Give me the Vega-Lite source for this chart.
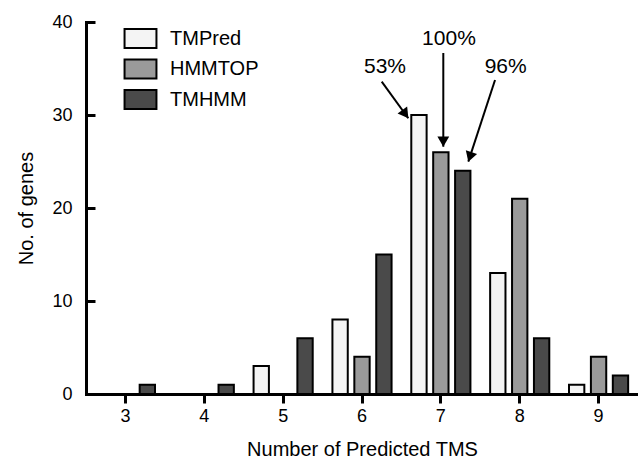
{
  "$schema": "https://vega.github.io/schema/vega-lite/v6.json",
  "autosize": {"type": "none"},
  "padding": {"left": 86, "top": 22, "right": 0, "bottom": 65},
  "width": 552,
  "height": 372,
  "background": "white",
  "config": {
    "font": "Liberation Sans",
    "view": {"stroke": null},
    "axis": {
      "domainColor": "black", "domainWidth": 3, "domainCap": "square",
      "tickColor": "black", "tickWidth": 3,
      "labelFontSize": 18, "labelColor": "black", "labelFont": "Liberation Sans",
      "titleFontSize": 20, "titleFontWeight": "normal", "titleColor": "black", "titleFont": "Liberation Sans",
      "grid": false
    }
  },
  "datasets": {
    "bars": [
      {"tms": 3, "method": "TMPred", "count": 0},
      {"tms": 3, "method": "HMMTOP", "count": 0},
      {"tms": 3, "method": "TMHMM", "count": 1},
      {"tms": 4, "method": "TMPred", "count": 0},
      {"tms": 4, "method": "HMMTOP", "count": 0},
      {"tms": 4, "method": "TMHMM", "count": 1},
      {"tms": 5, "method": "TMPred", "count": 3},
      {"tms": 5, "method": "HMMTOP", "count": 0},
      {"tms": 5, "method": "TMHMM", "count": 6},
      {"tms": 6, "method": "TMPred", "count": 8},
      {"tms": 6, "method": "HMMTOP", "count": 4},
      {"tms": 6, "method": "TMHMM", "count": 15},
      {"tms": 7, "method": "TMPred", "count": 30},
      {"tms": 7, "method": "HMMTOP", "count": 26},
      {"tms": 7, "method": "TMHMM", "count": 24},
      {"tms": 8, "method": "TMPred", "count": 13},
      {"tms": 8, "method": "HMMTOP", "count": 21},
      {"tms": 8, "method": "TMHMM", "count": 6},
      {"tms": 9, "method": "TMPred", "count": 1},
      {"tms": 9, "method": "HMMTOP", "count": 4},
      {"tms": 9, "method": "TMHMM", "count": 2}
    ],
    "arrows": [
      {"x1": 6.25, "y1": 33.58, "x2": 6.587, "y2": 29.65},
      {"x1": 7.031, "y1": 36.67, "x2": 7.031, "y2": 26.59},
      {"x1": 7.687, "y1": 33.76, "x2": 7.348, "y2": 24.98}
    ],
    "heads": [
      {"x": 6.55, "y": 30.09, "angle": -36},
      {"x": 7.031, "y": 27.13, "angle": 0},
      {"x": 7.368, "y": 25.49, "angle": 18}
    ],
    "notes": [
      {"x": 6.292, "y": 35.16, "label": "53%"},
      {"x": 7.103, "y": 38.17, "label": "100%"},
      {"x": 7.822, "y": 35.16, "label": "96%"}
    ]
  },
  "layer": [
    {
      "data": {"name": "bars"},
      "mark": {"type": "bar", "stroke": "black", "strokeWidth": 2},
      "encoding": {
        "x": {
          "field": "tms", "type": "ordinal",
          "scale": {"paddingInner": 0.25, "paddingOuter": 0.125},
          "axis": {"title": "Number of Predicted TMS", "labelAngle": 0, "tickSize": 9, "labelPadding": 4, "titlePadding": 14}
        },
        "xOffset": {
          "field": "method", "type": "nominal",
          "sort": ["TMPred", "HMMTOP", "TMHMM"],
          "scale": {"paddingInner": 0.3, "paddingOuter": 0}
        },
        "y": {
          "field": "count", "type": "quantitative",
          "scale": {"domain": [0, 40], "nice": false},
          "axis": {"title": "No. of genes", "values": [0, 10, 20, 30, 40], "tickSize": -9, "labelPadding": 23, "titlePadding": 15}
        },
        "color": {
          "field": "method", "type": "nominal",
          "sort": ["TMPred", "HMMTOP", "TMHMM"],
          "scale": {"domain": ["TMPred", "HMMTOP", "TMHMM"], "range": ["#f4f4f4", "#9a9a9a", "#4a4a4a"]},
          "legend": {
            "title": null, "orient": "none", "legendX": 39, "legendY": 1,
            "symbolType": "M-1.1,-0.65H1.1V0.65H-1.1Z", "symbolSize": 841,
            "symbolStrokeColor": "black", "symbolStrokeWidth": 2, "symbolOpacity": 1,
            "labelFontSize": 20, "labelFont": "Liberation Sans", "labelColor": "black",
            "labelOffset": 14, "rowPadding": 1.5, "padding": 0
          }
        }
      }
    },
    {
      "data": {"name": "arrows"},
      "mark": {"type": "rule", "strokeWidth": 2, "color": "black"},
      "encoding": {
        "x": {"field": "x1", "type": "quantitative", "scale": {"domain": [2.5, 9.5], "nice": false, "zero": false}, "axis": null},
        "y": {"field": "y1", "type": "quantitative", "scale": {"domain": [0, 40], "nice": false}, "axis": null},
        "x2": {"field": "x2"},
        "y2": {"field": "y2"}
      }
    },
    {
      "data": {"name": "heads"},
      "mark": {"type": "point", "shape": "triangle-down", "filled": true, "color": "black", "opacity": 1, "size": 140},
      "encoding": {
        "x": {"field": "x", "type": "quantitative", "scale": {"domain": [2.5, 9.5], "nice": false, "zero": false}, "axis": null},
        "y": {"field": "y", "type": "quantitative", "scale": {"domain": [0, 40], "nice": false}, "axis": null},
        "angle": {"field": "angle", "type": "quantitative", "scale": null}
      }
    },
    {
      "data": {"name": "notes"},
      "mark": {"type": "text", "fontSize": 21, "align": "center", "baseline": "middle", "color": "black", "font": "Liberation Sans"},
      "encoding": {
        "x": {"field": "x", "type": "quantitative", "scale": {"domain": [2.5, 9.5], "nice": false, "zero": false}, "axis": null},
        "y": {"field": "y", "type": "quantitative", "scale": {"domain": [0, 40], "nice": false}, "axis": null},
        "text": {"field": "label"}
      }
    }
  ],
  "resolve": {"scale": {"x": "independent", "y": "independent"}}
}
